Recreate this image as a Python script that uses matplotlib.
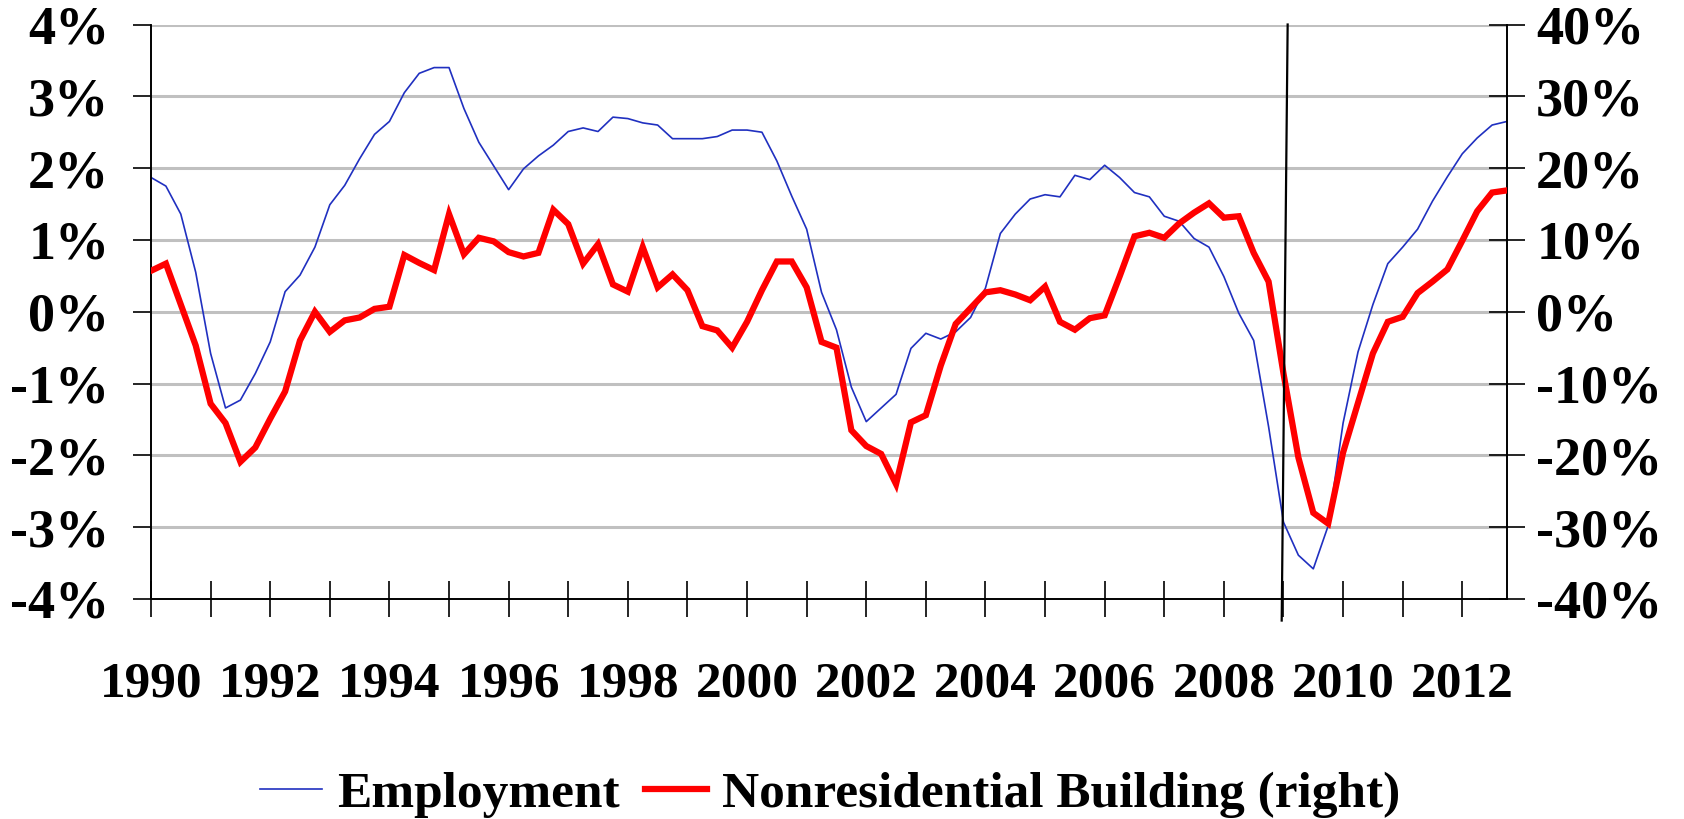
import matplotlib
matplotlib.use("Agg")
import matplotlib.pyplot as plt

plt.rcParams['font.family'] = ['Liberation Serif', 'DejaVu Serif']
plt.rcParams['font.weight'] = 'bold'

# quarterly y/y growth, 1990Q1 .. 2012Q4
employment = [
    1.87, 1.75, 1.36, 0.55,
    -0.58, -1.34, -1.23, -0.86,
    -0.42, 0.28, 0.51, 0.90,
    1.49, 1.76, 2.13, 2.47,
    2.65, 3.05, 3.32, 3.40,
    3.40, 2.83, 2.36, 2.03,
    1.70, 1.99, 2.17, 2.32,
    2.51, 2.56, 2.51, 2.71,
    2.69, 2.63, 2.60, 2.41,
    2.41, 2.41, 2.44, 2.53,
    2.53, 2.50, 2.10, 1.61,
    1.15, 0.27, -0.25, -1.05,
    -1.53, -1.34, -1.15, -0.51,
    -0.30, -0.38, -0.28, -0.08,
    0.33, 1.09, 1.36, 1.57,
    1.63, 1.60, 1.90, 1.84,
    2.04, 1.87, 1.66, 1.60,
    1.33, 1.26, 1.02, 0.90,
    0.49, -0.02, -0.40, -1.60,
    -2.93, -3.39, -3.58, -2.98,
    -1.55, -0.56, 0.10, 0.67,
    0.90, 1.15, 1.54, 1.88,
    2.20, 2.42, 2.60, 2.65,
]
nonres = [
    5.7, 6.7, 1.0, -4.7,
    -12.8, -15.5, -20.9, -18.9,
    -14.9, -11.1, -4.0, 0.0,
    -2.8, -1.2, -0.8, 0.4,
    0.7, 7.9, 6.8, 5.8,
    13.6, 8.0, 10.3, 9.8,
    8.3, 7.7, 8.2, 14.2,
    12.2, 6.7, 9.4, 3.8,
    2.8, 9.0, 3.4, 5.2,
    3.0, -2.0, -2.6, -5.0,
    -1.4, 3.0, 7.0, 7.0,
    3.4, -4.2, -5.0, -16.5,
    -18.7, -19.8, -24.0, -15.4,
    -14.4, -7.5, -1.7, 0.5,
    2.7, 3.0, 2.4, 1.6,
    3.5, -1.4, -2.5, -0.9,
    -0.5, 4.9, 10.5, 11.0,
    10.3, 12.3, 13.8, 15.1,
    13.1, 13.3, 8.2, 4.2,
    -8.6, -20.3, -28.0, -29.5,
    -19.6, -12.7, -5.8, -1.4,
    -0.7, 2.6, 4.2, 5.9,
    9.9, 14.0, 16.6, 16.9,
]
year_labels = list(range(1990, 2013, 2))
left_ticks = [4, 3, 2, 1, 0, -1, -2, -3, -4]
right_ticks = [40, 30, 20, 10, 0, -10, -20, -30, -40]

quarters = [1990 + i / 4 for i in range(len(employment))]

fig = plt.figure(figsize=(16.84, 8.19), dpi=100)
ax = fig.add_axes([151 / 1684, 1 - 599 / 819, (1507 - 151) / 1684, (599 - 24.5) / 819])
ax2 = ax.twinx()

ax.set_xlim(1990, quarters[-1])
ax.set_ylim(-4, 4)
ax2.set_ylim(-40, 40)

# grey horizontal grid
for v in left_ticks[:-1]:
    ax.axhline(v, color='#c0c0c0', lw=2.2, zorder=0)

ax.plot(quarters, employment, color='#2030c0', lw=1.2, label='Employment', zorder=2)
ax2.plot(quarters, nonres, color='#ff0000', lw=4.5, label='Nonresidential Building (right)',
         solid_joinstyle='miter', zorder=3)

# recession marker
ax2.plot([2009.07, 2008.97], [40, -43], color='black', lw=1.6, clip_on=False, zorder=4)

for a in (ax, ax2):
    a.spines['top'].set_visible(False)
    for s in a.spines.values():
        s.set_linewidth(1.2)

ax.set_xticks(range(1990, 2013))
ax.set_xticklabels([str(y) if y in year_labels else '' for y in range(1990, 2013)])
ax.tick_params(axis='x', direction='inout', length=26, width=1.2, pad=32, labelsize=37)
ax.set_yticks(left_ticks)
ax.set_yticklabels([f'{v}%' for v in left_ticks])
ax.tick_params(axis='y', direction='out', length=13, width=1.2, pad=17, labelsize=39)
ax2.set_yticks(right_ticks)
ax2.set_yticklabels([f'{v}%' for v in right_ticks])
ax2.tick_params(axis='y', direction='inout', length=26, width=1.2, pad=8, labelsize=39)

h1, l1 = ax.get_legend_handles_labels()
h2, l2 = ax2.get_legend_handles_labels()
fig.legend(h1 + h2, l1 + l2, loc='center', bbox_to_anchor=(0.493, 0.03), ncol=2,
           frameon=False, fontsize=37, handlelength=1.2, handletextpad=0.3, columnspacing=0.5)

fig.savefig('out.png', dpi=100)
